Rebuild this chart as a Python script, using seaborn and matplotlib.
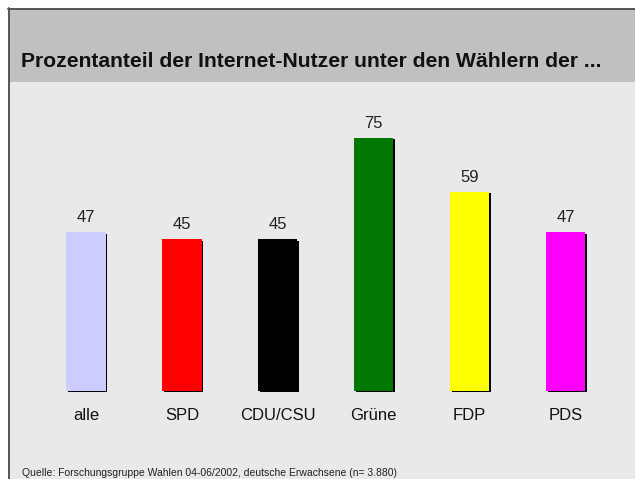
import seaborn as sns
import matplotlib.pyplot as plt
import matplotlib.patheffects as pe
from matplotlib.patches import Rectangle
from matplotlib.lines import Line2D

# data
parteien = ["alle", "SPD", "CDU/CSU", "Grüne", "FDP", "PDS"]
anteile = [47, 45, 45, 75, 59, 47]
farben = ["#ccccff", "#ff0000", "#000000", "#007800", "#ffff00", "#ff00ff"]
titel = "Prozentanteil der Internet-Nutzer unter den Wählern der ..."
quelle = "Quelle: Forschungsgruppe Wahlen 04-06/2002, deutsche Erwachsene (n= 3.880)"

sns.set_theme(style="white")
plt.rcParams['font.family'] = ['Liberation Sans', 'DejaVu Sans']

W, H = 635, 479
fig = plt.figure(figsize=(W / 100, H / 100), dpi=100)
fig.patch.set_facecolor("white")

# title band and frame lines
fig.patches.append(Rectangle((9 / W, 1 - 82 / H), 1, (82 - 9) / H, transform=fig.transFigure,
                             facecolor="#c0c0c0", edgecolor="none", zorder=0))
fig.lines.append(Line2D([8 / W, 1], [1 - 8.5 / H, 1 - 8.5 / H], transform=fig.transFigure,
                        color="#555555", lw=1.4))
fig.lines.append(Line2D([8.5 / W, 8.5 / W], [0, 1 - 8 / H], transform=fig.transFigure,
                        color="#555555", lw=1.4))
fig.text(21 / W, 1 - 67 / H, titel, fontsize=15.2, fontweight="bold", va="baseline",
         ha="left", color="#111111")

ax = fig.add_axes([9.5 / W, 0, (W - 9.5) / W, (H - 82) / H])
ax.set_facecolor("#e9e9e9")

sns.barplot(x=parteien, y=anteile, hue=parteien, palette=farben, width=0.41,
            saturation=1, legend=False, ax=ax, edgecolor="none")
for p in ax.patches:
    p.set_path_effects([pe.SimplePatchShadow(offset=(1.3, -1.0), shadow_rgbFace="black", alpha=1),
                        pe.Normal()])

ax.set_xlim(-0.797, 5.724)
ax.set_ylim(-26.07, 91.56)
for i, (name, v) in enumerate(zip(parteien, anteile)):
    ax.text(i, v + 4.4, str(v), ha="center", va="center", fontsize=12, color="#222222")
    ax.text(i, -7.4, name, ha="center", va="center", fontsize=12, color="#111111")

ax.set_xticks([])
ax.set_yticks([])
ax.set_xlabel("")
ax.set_ylabel("")
for s in ax.spines.values():
    s.set_visible(False)

# source line at the very bottom
fig.text(22 / W, 2.8 / H, quelle, fontsize=7.5, va="baseline", ha="left", color="#222222")

fig.savefig("out.png", dpi=100)
